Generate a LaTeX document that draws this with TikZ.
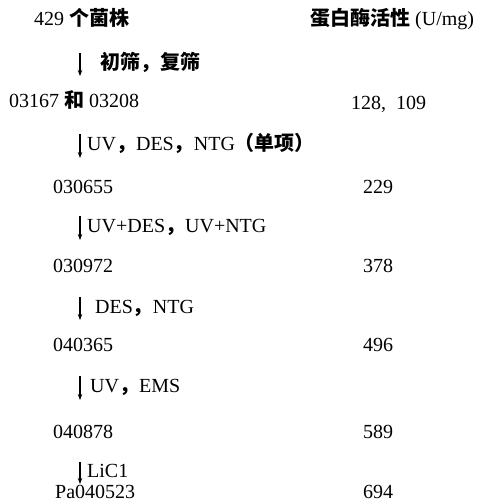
\documentclass[tikz,border=0pt]{standalone}
\usepackage{fontspec}
\setmainfont{Liberation Serif}
\newfontfamily\cjk{Noto Sans CJK SC}
\usetikzlibrary{arrows.meta}
\newcommand\zh[1]{{\cjk\bfseries #1}}
\begin{document}
\begin{tikzpicture}[x=1pt,y=-1pt,
  txt/.style={anchor=base west,inner sep=0pt,font=\fontsize{20}{24}\selectfont},
  arr/.style={line width=1.2pt,-{Stealth[length=6pt,width=4.5pt]}}]
\useasboundingbox (0,0) rectangle (487,504);
% header
\node[txt] (h1) at (34,25) {429 \zh{个菌株}};
\node[txt] (h2) at (310,25) {\zh{蛋白酶活性} (U/mg)};
% step 1
\coordinate (a1t) at (80,53); \coordinate (a1b) at (80,76);
\draw[arr] (a1t) -- (a1b);
\node[txt] (l1) at (100,69) {\zh{初筛，复筛}};
\node[txt] (s1) at (9,107) {03167 \zh{和} 03208};
\node[txt] (v1) at (351,109) {128,\enspace109};
% step 2
\coordinate (a2t) at (80,134); \coordinate (a2b) at (80,158);
\draw[arr] (a2t) -- (a2b);
\node[txt] (l2) at (87,150) {UV\zh{，}DES\zh{，}NTG\zh{（单项）}};
\node[txt] (s2) at (53,193) {030655};
\node[txt] (v2) at (363,193) {229};
% step 3
\coordinate (a3t) at (80,216); \coordinate (a3b) at (80,240);
\draw[arr] (a3t) -- (a3b);
\node[txt] (l3) at (87,232) {UV+DES\zh{，}UV+NTG};
\node[txt] (s3) at (53,272) {030972};
\node[txt] (v3) at (363,272) {378};
% step 4
\coordinate (a4t) at (80,297); \coordinate (a4b) at (80,320);
\draw[arr] (a4t) -- (a4b);
\node[txt] (l4) at (95,313) {DES\zh{，}NTG};
\node[txt] (s4) at (53,351) {040365};
\node[txt] (v4) at (363,351) {496};
% step 5
\coordinate (a5t) at (80,376); \coordinate (a5b) at (80,400);
\draw[arr] (a5t) -- (a5b);
\node[txt] (l5) at (90,392) {UV\zh{，}EMS};
\node[txt] (s5) at (53,438) {040878};
\node[txt] (v5) at (363,438) {589};
% step 6
\coordinate (a6t) at (80,462); \coordinate (a6b) at (80,484);
\draw[arr] (a6t) -- (a6b);
\node[txt] (l6) at (87,477) {LiC1};
\node[txt] (s6) at (55,498) {Pa040523};
\node[txt] (v6) at (363,498) {694};
\end{tikzpicture}
\end{document}
